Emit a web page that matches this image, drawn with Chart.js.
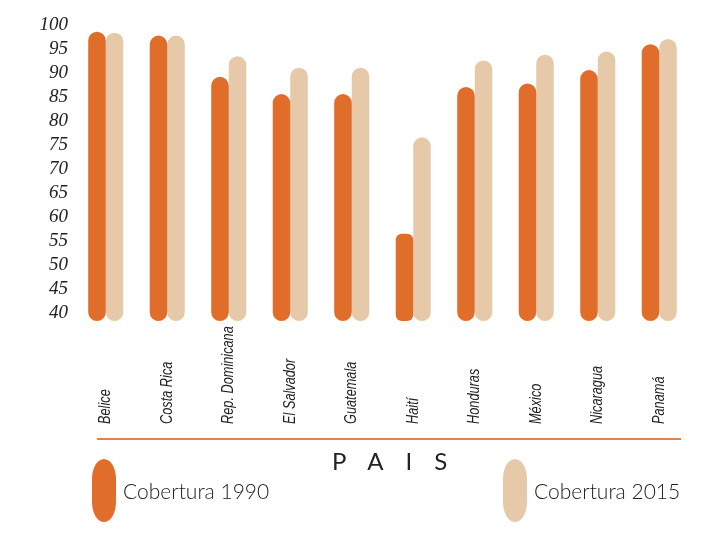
<!DOCTYPE html>
<html>
<head>
<meta charset="utf-8">
<script src="https://cdn.jsdelivr.net/npm/chart.js@4"></script>
<style>
  body { margin: 0; background: #fff; }
  #wrap { position: relative; width: 712px; height: 533px; }
  #axisLine { position: absolute; left: 97px; top: 438px; width: 584px; height: 2px; background: #e58050; }
  #axisTitle { position: absolute; left: 332px; top: 446px; font: 400 24px Lato, sans-serif; letter-spacing: 22px; color: #222; }
  .leg { position: absolute; top: 459px; height: 63px; }
  .leg .pill { position: absolute; left: 0; top: 0; width: 24px; height: 63px; border-radius: 12px / 20px; }
  .leg span { position: absolute; top: 19px; white-space: nowrap; font: 300 21px Lato, sans-serif; color: #222; }
</style>
</head>
<body>
<div id="wrap">
  <canvas id="coverChart"></canvas>
  <div id="axisLine"></div>
  <div id="axisTitle">PAIS</div>
  <div class="leg" style="left:92px"><div class="pill" style="background:#e06e2a"></div><span style="left:31px">Cobertura 1990</span></div>
  <div class="leg" style="left:503px"><div class="pill" style="background:#e6c9a8"></div><span style="left:31px">Cobertura 2015</span></div>
</div>
<script>
const categories = ['Belice', 'Costa Rica', 'Rep. Dominicana', 'El Salvador', 'Guatemala', 'Haití', 'Honduras', 'México', 'Nicaragua', 'Panamá'];
const cobertura1990 = [98.6, 97.8, 89.2, 85.6, 85.6, 56.5, 87.1, 87.8, 90.6, 96.0];
const cobertura2015 = [98.4, 97.8, 93.5, 91.1, 91.1, 76.6, 92.6, 93.8, 94.5, 97.1];
const yTicks = [40, 45, 50, 55, 60, 65, 70, 75, 80, 85, 90, 95, 100];

const orange = '#e06e2a';
const beige = '#e6c9a8';
const barBase = 38.33;

// country names sit bottom-aligned under the bars, reading upwards
const countryLabels = {
    id: 'countryLabels',
    afterDraw(chart) {
        const ctx = chart.ctx;
        const x = chart.scales.x;
        ctx.save();
        ctx.font = 'italic 17px "Liberation Sans", Arial, sans-serif';
        ctx.fillStyle = '#222';
        ctx.textAlign = 'left';
        ctx.textBaseline = 'middle';
        categories.forEach((name, i) => {
            ctx.save();
            ctx.translate(x.getPixelForValue(i), 424);
            ctx.rotate(-Math.PI / 2);
            ctx.scale(0.75, 1); // condensed face like the original
            ctx.fillText(name, 0, 0);
            ctx.restore();
        });
        ctx.restore();
    }
};

function pillRadius(context) {
    // Haití 1990 bar has a flatter top in the original
    if (context.datasetIndex === 0 && categories[context.dataIndex] === 'Haití') return 6;
    return 20;
}

new Chart(document.getElementById('coverChart'), {
    type: 'bar',
    data: {
        labels: categories,
        datasets: [{
            label: 'Cobertura 1990',
            data: cobertura1990,
            backgroundColor: orange,
            base: barBase,
            borderRadius: pillRadius,
            borderSkipped: false
        }, {
            label: 'Cobertura 2015',
            data: cobertura2015,
            backgroundColor: beige,
            base: barBase,
            borderRadius: pillRadius,
            borderSkipped: false
        }]
    },
    options: {
        responsive: true,
        maintainAspectRatio: false,
        animation: false,
        layout: {
            padding: { left: 25, right: 22, top: 25, bottom: 212 }
        },
        datasets: {
            bar: { categoryPercentage: 0.57, barPercentage: 1 }
        },
        scales: {
            x: { display: false },
            y: {
                min: barBase,
                max: 100,
                grid: { display: false, drawTicks: false },
                border: { display: false },
                afterFit: function(scale) { scale.width = 50; },
                afterBuildTicks: function(scale) {
                    scale.ticks = yTicks.map(v => ({ value: v }));
                },
                ticks: {
                    autoSkip: false,
                    padding: 7,
                    color: '#222',
                    font: { family: '"Liberation Serif", "DejaVu Serif", serif', style: 'italic', size: 19 }
                }
            }
        },
        plugins: {
            legend: { display: false },
            tooltip: { enabled: false }
        }
    },
    plugins: [countryLabels]
});
</script>
</body>
</html>
